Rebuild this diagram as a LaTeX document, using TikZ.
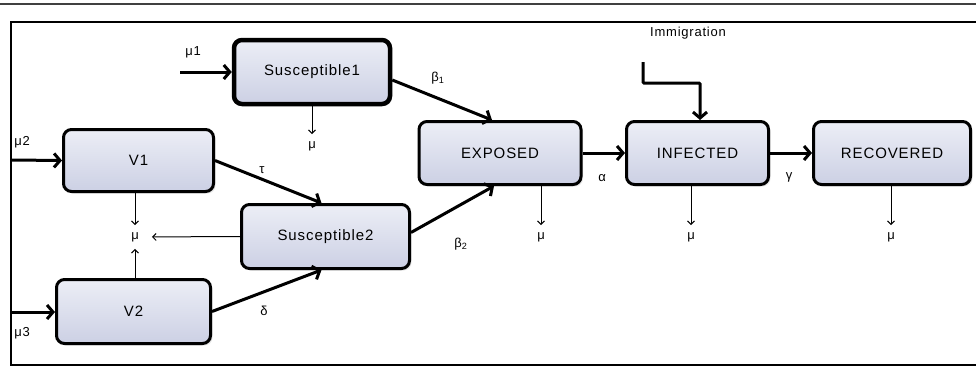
\documentclass[tikz,border=0pt]{standalone}
\usepackage{fontspec}
\setmainfont{Liberation Sans}[LetterSpace=6]
\usepackage{xcolor}
\usetikzlibrary{calc, arrows.meta, positioning, shadows}

\definecolor{boxtop}{RGB}{236,238,246}
\definecolor{boxbot}{RGB}{204,208,228}

\begin{document}
\begin{tikzpicture}[
    x=1pt, y=-1pt,
    every node/.style={font=\fontsize{13}{15}\selectfont, inner sep=1pt},
    box/.style={draw, line width=3pt, rounded corners=8pt, top color=boxtop, bottom color=boxbot,
      font=\fontsize{15}{18}\selectfont, drop shadow={opacity=0.2, shadow xshift=2pt, shadow yshift=-2pt}},
    thickarr/.style={line width=3pt, -{Straight Barb[length=6pt, width=14pt]}},
    thinarr/.style={line width=1pt, -{Straight Barb[length=3.5pt, width=7pt]}, shorten >=6pt},
  ]
  \useasboundingbox (0,0) rectangle (976,367);
  \draw[line width=1.5pt, black!75] (0,4) -- (976,4);
  \draw[line width=1.2pt] (976,22) -- (11,22) -- (11,365) -- (976,365);

  % compartments
  \node[box, line width=4.5pt, minimum width=156pt, minimum height=64pt] (s1) at (312,72) {Susceptible1};
  \node[box, minimum width=150pt, minimum height=62pt] (v1) at (138.5,160.5) {V1};
  \node[box, minimum width=168pt, minimum height=64pt] (s2) at (325.5,236.5) {Susceptible2};
  \node[box, minimum width=154pt, minimum height=64pt] (v2) at (133.5,311.5) {V2};
  \node[box, minimum width=162pt, minimum height=63pt] (ex) at (500,153) {EXPOSED};
  \node[box, minimum width=142pt, minimum height=63pt] (inf) at (697.5,153) {INFECTED};
  \node[box, minimum width=157pt, minimum height=63pt] (rec) at (892,153) {RECOVERED};

  % rates
  \node (mu1) at (193,52) {μ1};
  \node (mu2) at (22,142) {μ2};
  \node (mu3) at (22,333) {μ3};
  \node (muS) at (312,146) {μ};
  \node (muV) at (135,237) {μ};
  \node (tau) at (262,170) {τ};
  \node (del) at (264,311) {δ};
  \node (b1) at (438,78) {β\textsubscript{1}};
  \node (b2) at (461,244) {β\textsubscript{2}};
  \node (alp) at (602,178) {α};
  \node (gam) at (789,177) {γ};
  \node (muE) at (541,237) {μ};
  \node (muI) at (691,237) {μ};
  \node (muR) at (891,237) {μ};
  \node (immig) at (688,33) {Immigration};

  \coordinate (in1) at (180,72);
  \coordinate (in2) at (11,160);
  \coordinate (in3) at (11,312);
  \coordinate (imtop) at (643,62);

  % flows
  \draw[thickarr] (in1) -- (s1.west);
  \draw[thickarr] (in2) -- (v1.west);
  \draw[thickarr] (in3) -- (v2.west |- in3);
  \draw[thickarr] ([yshift=-8pt]s1.east) -- ([xshift=-8pt]ex.north);
  \draw[thickarr] (v1.east) -- ([xshift=-4pt]s2.north);
  \draw[thickarr] (v2.east) -- ([xshift=-4pt]s2.south);
  \draw[thickarr] ([yshift=4pt]s2.east) -- ([xshift=-6pt]ex.south);
  \draw[thickarr] (ex.east) -- (inf.west);
  \draw[thickarr] (inf.east) -- (rec.west);
  \draw[thickarr, rounded corners=1pt] (imtop) -- (643,83) -- (700,83) -- (inf.north -| 700,0);

  % deaths
  \draw[thinarr] (s1.south) -- (muS.north);
  \draw[thinarr] (v1.south -| muV) -- (muV.north);
  \draw[thinarr] (v2.north -| muV) -- (muV.south);
  \draw[thinarr, shorten >=12pt] (s2.west) -- (muV.east);
  \draw[thinarr] (ex.south -| muE) -- (muE.north);
  \draw[thinarr] (inf.south -| muI) -- (muI.north);
  \draw[thinarr] (rec.south -| muR) -- (muR.north);
\end{tikzpicture}
\end{document}
